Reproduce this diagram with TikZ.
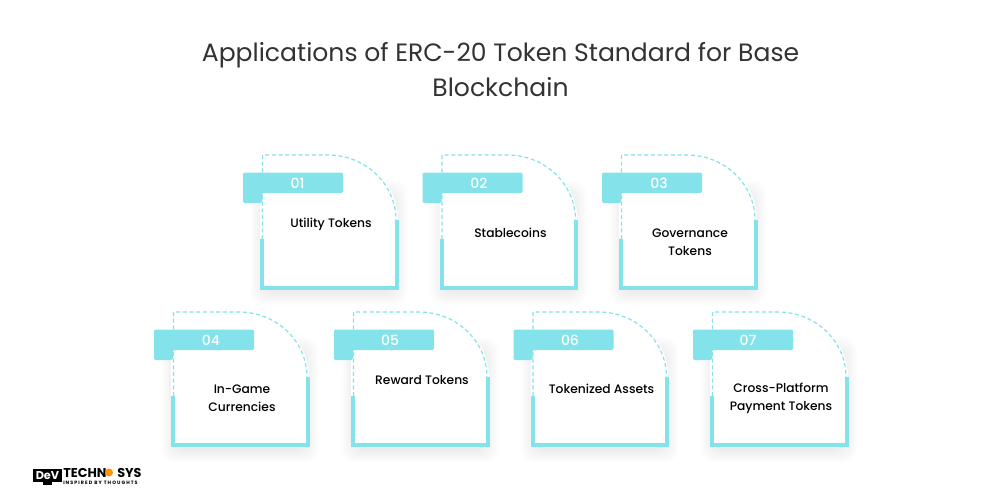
\documentclass[tikz,border=0pt]{standalone}
\usepackage{fontspec}
\usepackage{xcolor}
\setmainfont{Poppins}
\newfontfamily\mediumfont{Poppins Medium}
\usetikzlibrary{positioning,calc}
\definecolor{tagcyan}{HTML}{84E3EA}
\definecolor{titlegray}{HTML}{333333}
\tikzset{
    tagtext/.style={font=\mediumfont\fontsize{10.5}{12}\selectfont, text=white},
    cardtext/.style={font=\mediumfont\fontsize{9.2}{13.5}\selectfont, text=black, align=center},
    titletext/.style={font=\fontsize{18.8}{26.2}\selectfont, text=titlegray, align=center},
    logotext/.style={text=black, inner sep=0pt, anchor=west},
}
\begin{document}
\begin{tikzpicture}[x=0.75pt,y=-0.75pt]
    \useasboundingbox (0,0) rectangle (1000,500);
    \fill[white] (0,0) rectangle (1000,500);

    % Title
    \node[titletext] (title) at (500.5,69.5) {Applications of ERC-20 Token Standard for Base\\Blockchain};

    % Cards: x, y, number, number x, text centre y, text
    \foreach \x/\y/\num/\nx/\ty/\lab in {
        260/154/01/37.5/70/{Utility Tokens},
        439.5/154/02/39.5/79/{Stablecoins},
        619/154/03/40/88/{Governance\\Tokens},
        171/311/04/40/87/{In-Game\\Currencies},
        351/311/05/39/69/{Reward Tokens},
        530.5/311/06/39.5/78/{Tokenized Assets},
        710/311/07/38/87/{Cross-Platform\\Payment Tokens}} {
        % Soft shadow
        \foreach \g in {1,...,9} {
            \fill[black, opacity=0.006, rounded corners=10pt]
                (\x+4-\g*1.5,\y+40-\g*1.5) rectangle (\x+134+\g*1.5,\y+138+\g*1.5);
        }
        % Sheet
        \fill[white] (\x,\y) -- (\x+68,\y) arc (-90:0:70 and 66) -- (\x+138,\y+135) -- (\x,\y+135) -- cycle;
        % Dashed outline
        \draw[tagcyan, densely dashed, line width=0.9pt] (\x+2.5,\y+85) -- (\x+2.5,\y+1) -- (\x+68,\y+1) arc (-90:0:68 and 65);
        % Thick corner
        \draw[tagcyan, line width=3pt] (\x+2,\y+85) -- (\x+2,\y+133.5) -- (\x+136.5,\y+133.5) -- (\x+136.5,\y+66);
        % Tag
        \fill[tagcyan, rounded corners=1pt] (\x-17,\y+18.5) -- (\x+83,\y+18.5) -- (\x+83,\y+39) -- (\x+2,\y+39) -- (\x+2,\y+49) -- (\x-17,\y+49) -- cycle;
        \node[tagtext] (num\num) at (\x+\nx,\y+29.5) {\num};
        \node[cardtext] (card\num) at (\x+71,\y+\ty) {\lab};
    }

    % Logo
    \fill[black] (33,469) rectangle (62,482);
    \fill[black] (43,482) rectangle (52,484.5);
    \node[font=\fontsize{8.5}{10}\selectfont\bfseries, text=white, inner sep=0pt] (logodev) at (47.5,475.5) {DeV};
    \node[logotext, font=\fontsize{9.6}{12}\selectfont\bfseries] (logotech) at (63,472.5) {TECHN};
    \fill[orange!85!yellow] (109,472.5) circle (4);
    \node[logotext, font=\fontsize{9.6}{12}\selectfont\bfseries] (logosys) at (117,472.5) {SYS};
    \node[logotext, font=\fontsize{3.6}{4}\selectfont\bfseries\addfontfeature{LetterSpace=22}] (logotag) at (63,483) {INSPIRED BY THOUGHTS};
\end{tikzpicture}
\end{document}
